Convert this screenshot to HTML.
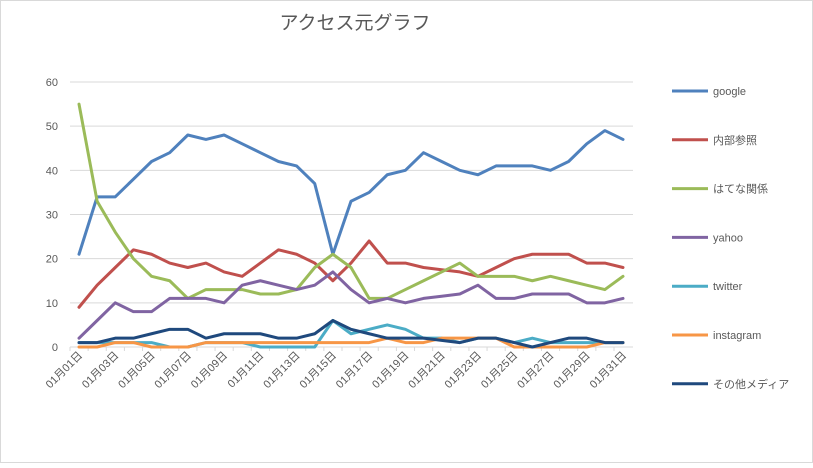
<!DOCTYPE html>
<html><head><meta charset="utf-8"><style>
body{margin:0;background:#fff;font-family:"Liberation Sans","Noto Sans CJK JP",sans-serif}
svg text{font-family:"Liberation Sans","Noto Sans CJK JP",sans-serif}
</style></head><body>
<svg id="c" width="813" height="463" xmlns="http://www.w3.org/2000/svg">
<rect x="0.5" y="0.5" width="812" height="462" fill="#fff" stroke="#d9d9d9"/>
<text x="355" y="29" font-size="19" fill="#595959" text-anchor="middle">アクセス元グラフ</text>
<g id="grid"></g><g id="xl"></g><g id="lines"></g><g id="legend"></g>
</svg>
<script>
const days=[];for(let i=1;i<=31;i++)days.push('01月'+String(i).padStart(2,'0')+'日');
const yTicks=[0,10,20,30,40,50,60];
const seriesNames=['google','内部参照','はてな関係','yahoo','twitter','instagram','その他メディア'];
const colors=['#4f81bd','#c0504d','#9bbb59','#8064a2','#4bacc6','#f79646','#1f497d'];
const google=[21,34,34,38,42,44,48,47,48,46,44,42,41,37,21,33,35,39,40,44,42,40,39,41,41,41,40,42,46,49,47];
const naibu=[9,14,18,22,21,19,18,19,17,16,19,22,21,19,15,19,24,19,19,18,17.5,17,16,18,20,21,21,21,19,19,18];
const hatena=[55,33,26,20,16,15,11,13,13,13,12,12,13,18,21,18,11,11,13,15,17,19,16,16,16,15,16,15,14,13,16];
const yahoo=[2,6,10,8,8,11,11,11,10,14,15,14,13,14,17,13,10,11,10,11,11.5,12,14,11,11,12,12,12,10,10,11];
const twitter=[1,1,1,1,1,0,0,1,1,1,0,0,0,0,6,3,4,5,4,2,2,1,2,2,1,2,1,1,1,1,1];
const instagram=[0,0,1,1,0,0,0,1,1,1,1,1,1,1,1,1,1,2,1,1,2,2,2,2,0,0,0,0,0,1,1];
const other=[1,1,2,2,3,4,4,2,3,3,3,2,2,3,6,4,3,2,2,2,1.5,1,2,2,1,0,1,2,2,1,1];
const allSeries=[google,naibu,hatena,yahoo,twitter,instagram,other];
const NS='http://www.w3.org/2000/svg';
const x=i=>79+i*(544/30), y=v=>347-v*(265/60);
function mk(t,a,p){const e=document.createElementNS(NS,t);for(const k in a)e.setAttribute(k,a[k]);document.getElementById(p).appendChild(e);return e;}
yTicks.forEach(t=>{
 if(t>0){const l=mk('line',{x1:70,x2:633,y1:y(t),y2:y(t),stroke:'#d9d9d9'},'grid');
 
 }
 const tx=mk('text',{x:58,y:y(t)+4,'font-size':11,fill:'#595959','text-anchor':'end'},'grid');tx.textContent=t;
 
 
});
const ax=mk('line',{x1:70,x2:633,y1:347,y2:347,stroke:'#d9d9d9'},'grid');


days.forEach((d,i)=>{
 const tk=mk('line',{x1:x(i)-9,x2:x(i)-9,y1:347,y2:351,stroke:'#d9d9d9'},'xl');
 
 
 if(i%2==0){const t=mk('text',{x:x(i)+4,y:356,'font-size':11,fill:'#595959','text-anchor':'end',transform:`rotate(-45 ${x(i)+4} 356)`},'xl');t.textContent=d;
 
 }
});
allSeries.forEach((s,k)=>{
 const p=mk('polyline',{points:s.map((v,i)=>x(i)+','+y(v)).join(' '),fill:'none',stroke:colors[k],'stroke-width':3,'stroke-linejoin':'round','stroke-linecap':'round'},'lines');
 
 
 const ly=91+k*48.8;
 const l=mk('line',{x1:672,x2:708,y1:ly,y2:ly,stroke:colors[k],'stroke-width':3},'legend');
 
 
 const t=mk('text',{x:713,y:ly+4,'font-size':11,fill:'#595959'},'legend');t.textContent=seriesNames[k];
 
 
});
</script>
</body></html>
